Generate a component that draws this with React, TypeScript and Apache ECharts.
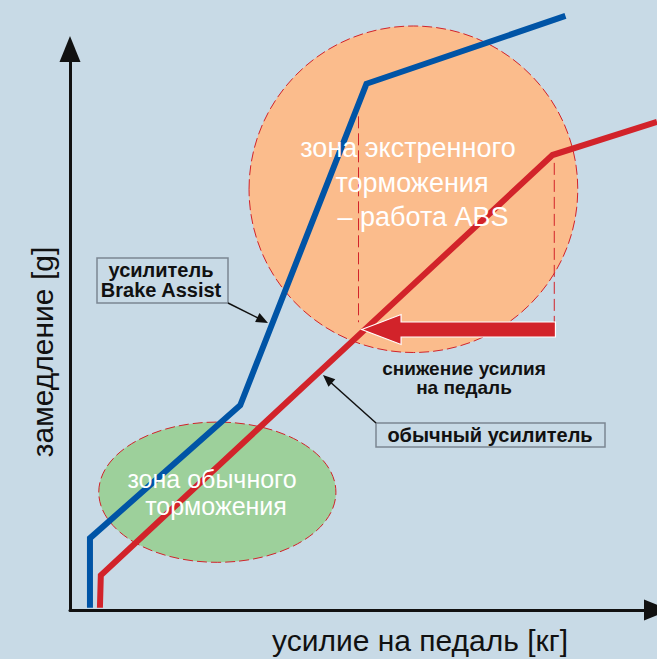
import React, { useEffect, useRef } from "react";
import * as echarts from "echarts";

// axis ranges (arbitrary units: pedal force [kg], deceleration [g])
const xRange = [0, 100];
const yRange = [0, 100];

// curves: [pedal force, deceleration]
const brakeAssistCurve = [
  [3.4, 0.4],
  [3.4, 12.8],
  [29.0, 36.5],
  [50.5, 93.8],
  [84.4, 105.9],
];
const normalBoosterCurve = [
  [5.1, 0.4],
  [5.25, 6.2],
  [82.2, 81.1],
  [100, 87.0],
];

// zones: [cx, cy, rx, ry]
const emergencyZone = [58.5, 75.0, 28.0, 29.1];
const normalZone = [25.1, 21.0, 20.2, 12.5];

// dashed drop lines
const dropLeft = [
  [49.15, 88.0],
  [49.15, 51.3],
];
const dropRight = [
  [82.5, 79.7],
  [82.5, 51.3],
];

// pedal-force reduction arrow: tipX, tipY, headX, tailX, shaftHalf, headHalf
const pedalArrow = [49.7, 50.0, 56.4, 82.7, 1.34, 2.67];

// texts
const xTitle = "усилие на педаль [кг]";
const yTitle = "замедление [g]";
const emergencyText = ["зона экстренного", "торможения", "– работа ABS"];
const normalText = ["зона обычного", "торможения"];
const reductionText = ["снижение усилия", "на педаль"];
const brakeAssistLabel = ["усилитель", "Brake Assist"];
const normalBoosterLabel = "обычный усилитель";

const FONT = '"Liberation Sans", Arial, Helvetica, sans-serif';
const BG = "#c8dae6";
const BLUE = "#0054a6";
const RED = "#d2232a";

export default function App() {
  const ref = useRef<HTMLDivElement>(null);

  useEffect(() => {
    document.body.style.margin = "0";
    if (!ref.current) return;
    const chart = echarts.init(ref.current, null, { renderer: "svg" });

    const ellipseItem = (fill: string) => (params: any, api: any) => {
      const c = api.coord([api.value(0), api.value(1)]);
      const s = api.size([api.value(2), api.value(3)]);
      return {
        type: "ellipse",
        shape: { cx: c[0], cy: c[1], rx: s[0], ry: s[1] },
        style: { fill, stroke: RED, lineWidth: 1, lineDash: [10, 4] },
      };
    };

    const txt = (
      text: string,
      x: number,
      y: number,
      size: number,
      color: string,
      weight: string = "normal",
      rotation = 0,
      lineHeight?: number
    ) => ({
      type: "text",
      x,
      y,
      rotation,
      z: 100,
      style: {
        text,
        fill: color,
        fontSize: size,
        fontWeight: weight,
        fontFamily: FONT,
        lineHeight: lineHeight ?? Math.round(size * 1.2),
        textAlign: "center",
        textVerticalAlign: "middle",
      },
    });

    const option: any = {
      animation: false,
      backgroundColor: BG,
      grid: { left: 70, top: 49, width: 590, height: 561 },
      xAxis: {
        type: "value",
        min: xRange[0],
        max: xRange[1],
        axisLabel: { show: false },
        axisTick: { show: false },
        splitLine: { show: false },
        axisLine: {
          show: true,
          onZero: false,
          symbol: ["none", "triangle"],
          symbolSize: [21, 26],
          lineStyle: { color: "#111", width: 3 },
        },
      },
      yAxis: {
        type: "value",
        min: yRange[0],
        max: yRange[1],
        axisLabel: { show: false },
        axisTick: { show: false },
        splitLine: { show: false },
        axisLine: {
          show: true,
          onZero: false,
          symbol: ["none", "triangle"],
          symbolSize: [21, 26],
          lineStyle: { color: "#111", width: 3 },
        },
      },
      series: [
        {
          type: "custom",
          name: "emergencyZone",
          clip: false,
          z: 1,
          encode: { x: 0, y: 1 },
          data: [emergencyZone],
          renderItem: ellipseItem("#fbbc8c"),
        },
        {
          type: "custom",
          name: "normalZone",
          clip: false,
          z: 1,
          encode: { x: 0, y: 1 },
          data: [normalZone],
          renderItem: ellipseItem("#9dd09b"),
        },
        {
          type: "line",
          name: "dropLeft",
          data: dropLeft,
          symbol: "none",
          z: 2,
          lineStyle: { color: RED, width: 1, type: [12, 5] },
        },
        {
          type: "line",
          name: "dropRight",
          data: dropRight,
          symbol: "none",
          z: 2,
          lineStyle: { color: RED, width: 1, type: [12, 5] },
        },
        {
          type: "line",
          name: "Brake Assist",
          data: brakeAssistCurve,
          symbol: "none",
          clip: false,
          z: 3,
          lineStyle: { color: BLUE, width: 6, join: "miter" },
        },
        {
          type: "line",
          name: "обычный усилитель",
          data: normalBoosterCurve,
          symbol: "none",
          clip: true,
          z: 3,
          lineStyle: { color: RED, width: 6, join: "miter" },
        },
        {
          type: "custom",
          name: "pedalArrow",
          clip: false,
          z: 4,
          encode: { x: 0, y: 1 },
          data: [pedalArrow],
          renderItem: (params: any, api: any) => {
            const tx = api.value(0);
            const ty = api.value(1);
            const hx = api.value(2);
            const ex = api.value(3);
            const sh = api.value(4);
            const hh = api.value(5);
            const pts = [
              [tx, ty],
              [hx, ty + hh],
              [hx, ty + sh],
              [ex, ty + sh],
              [ex, ty - sh],
              [hx, ty - sh],
              [hx, ty - hh],
            ].map((p) => api.coord(p));
            return {
              type: "polygon",
              shape: { points: pts },
              style: { fill: RED, stroke: "#ffffff", lineWidth: 1.2 },
            };
          },
        },
      ],
      graphic: [
        // axis titles
        txt(xTitle, 420, 640, 30, "#111"),
        txt(yTitle, 42, 352, 30, "#111", "normal", Math.PI / 2),
        // emergency zone
        txt(emergencyText[0], 408, 148, 27, "#ffffff"),
        txt(emergencyText[1], 412, 183, 27, "#ffffff"),
        txt(emergencyText[2], 423, 217, 27, "#ffffff"),
        // normal zone
        txt(normalText[0], 212, 479, 25, "#ffffff"),
        txt(normalText[1], 216, 506, 25, "#ffffff"),
        // reduction text
        txt(reductionText.join("\n"), 464, 378, 19, "#111", "bold", 0, 19),
        // Brake Assist label box
        {
          type: "rect",
          z: 100,
          shape: { x: 97, y: 258, width: 131, height: 45 },
          style: { fill: BG, stroke: "#7b8692", lineWidth: 1.5 },
        },
        txt(brakeAssistLabel.join("\n"), 161, 280, 20, "#111", "bold", 0, 20),
        {
          type: "line",
          z: 100,
          shape: { x1: 228, y1: 303, x2: 262, y2: 320 },
          style: { stroke: "#111", lineWidth: 1.5 },
        },
        {
          type: "polygon",
          z: 100,
          shape: {
            points: [
              [268, 323],
              [255.1, 322.1],
              [259.5, 313.1],
            ],
          },
          style: { fill: "#111" },
        },
        // normal booster label box
        {
          type: "rect",
          z: 100,
          shape: { x: 376, y: 423, width: 229, height: 24 },
          style: { fill: BG, stroke: "#7b8692", lineWidth: 1.5 },
        },
        txt(normalBoosterLabel, 490, 435, 20, "#111", "bold"),
        {
          type: "line",
          z: 100,
          shape: { x1: 376, y1: 423, x2: 328, y2: 380 },
          style: { stroke: "#111", lineWidth: 1.5 },
        },
        {
          type: "polygon",
          z: 100,
          shape: {
            points: [
              [323, 375],
              [335.3, 379.3],
              [328.5, 386.8],
            ],
          },
          style: { fill: "#111" },
        },
      ],
    };

    chart.setOption(option);
    return () => chart.dispose();
  }, []);

  return <div ref={ref} style={{ width: 657, height: 659 }} />;
}
